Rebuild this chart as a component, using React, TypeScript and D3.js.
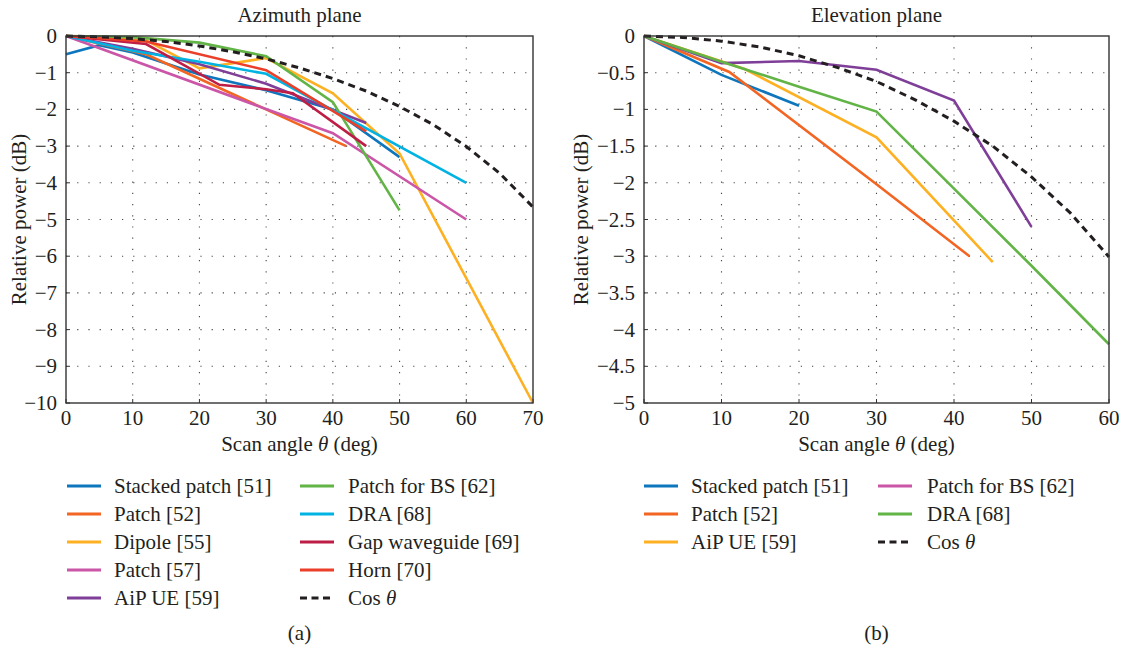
import React from 'react'
import {scaleLinear, line} from 'd3'

// angle (deg), relative power (dB) pairs
type Pt = [number, number]

const cosAngles = [0, 5, 10, 15, 20, 25, 30, 35, 40, 45, 50, 55, 60, 65, 70]
const cosDb = [0, -0.02, -0.07, -0.15, -0.27, -0.43, -0.62, -0.87, -1.16, -1.5, -1.92, -2.41, -3.01, -3.74, -4.66]

// (a) azimuth plane
const azStacked51: Pt[] = [[0, -0.5], [5, -0.25], [10, -0.45], [20, -1.05], [30, -1.48], [40, -2.0], [50, -3.3]]
const azPatch52: Pt[] = [[0, 0], [12, -0.5], [42, -3.0]]
const azDipole55: Pt[] = [[0, 0], [12, -0.12], [20, -0.88], [30, -0.6], [40, -1.56], [50, -3.2], [70, -10]]
const azPatch57: Pt[] = [[0, 0], [40, -2.65], [60, -5.0]]
const azAipUe59: Pt[] = [[0, 0], [10, -0.35], [20, -0.77], [30, -1.3], [45, -2.37]]
const azPatchBs62: Pt[] = [[0, 0], [10, -0.03], [20, -0.18], [30, -0.55], [40, -1.8], [50, -4.75]]
const azDra68: Pt[] = [[0, 0], [5, -0.2], [10, -0.4], [20, -0.7], [30, -1.03], [60, -4.0]]
const azGap69: Pt[] = [[0, 0], [12, -0.22], [23, -1.33], [30, -1.45], [34, -1.56], [45, -3.0]]
const azHorn70: Pt[] = [[0, 0], [12, -0.15], [30, -0.93], [45, -2.6]]

// (b) elevation plane
const elStacked51: Pt[] = [[0, 0], [10, -0.53], [20, -0.95]]
const elPatch52: Pt[] = [[0, 0], [11, -0.49], [30, -2.02], [42, -3.0]]
const elAipUe59: Pt[] = [[0, 0], [13, -0.45], [30, -1.38], [45, -3.08]]
const elPatchBs62: Pt[] = [[0, 0], [10, -0.37], [20, -0.34], [30, -0.46], [40, -0.88], [50, -2.6]]
const elDra68: Pt[] = [[0, 0], [10, -0.35], [20, -0.69], [30, -1.03], [40, -2.08], [50, -3.13], [60, -4.2]]

const azXTicks = [0, 10, 20, 30, 40, 50, 60, 70]
const azYTicks = [0, -1, -2, -3, -4, -5, -6, -7, -8, -9, -10]
const elXTicks = [0, 10, 20, 30, 40, 50, 60]
const elYTicks = [0, -0.5, -1, -1.5, -2, -2.5, -3, -3.5, -4, -4.5, -5]

const C = {
    blue: '#0E76BC',
    orange: '#F26522',
    yellow: '#FDB022',
    pink: '#CB56A8',
    purple: '#7F3F98',
    green: '#62B447',
    cyan: '#00B3E3',
    crimson: '#BE1E45',
    red: '#EC3F2A',
    black: '#231F20'
}

const FONT = '"Liberation Serif", "DejaVu Serif", serif'
const FS = 21

const cosPts: Pt[] = cosAngles.map((a, i) => [a, cosDb[i]])

const fmt = (v: number) => (v === 0 ? '0' : String(v).replace('-', '\u2212'))

type Series = {name: string, color: string, data: Pt[], dashed?: boolean, lineColor?: string}

function Panel(props: {
    x0: number, x1: number, y0: number, y1: number,
    xMax: number, yMin: number, xTicks: number[], yTicks: number[],
    title: string, series: Series[], legendCols: Series[][],
    legX: number[], lineX: number[], tag: string, ylabelX: number
}) {
    const {x0, x1, y0, y1} = props
    const xScale = scaleLinear().domain([0, props.xMax]).range([x0, x1])
    const yScale = scaleLinear().domain([props.yMin, 0]).range([y1, y0])
    const gen = line<Pt>().x(d => xScale(d[0])).y(d => yScale(d[1]))
    const cx = (x0 + x1) / 2

    return <g fontFamily={FONT} fill="#231F20">
        {/* dotted grid */}
        {props.xTicks.slice(1, -1).map(t =>
            <line key={'gx' + t} x1={xScale(t)} x2={xScale(t)} y1={y0} y2={y1}
                  stroke="#444" strokeWidth={1.1} strokeDasharray="1.2 10"/>)}
        {props.yTicks.slice(1, -1).map(t =>
            <line key={'gy' + t} x1={x0} x2={x1} y1={yScale(t)} y2={yScale(t)}
                  stroke="#444" strokeWidth={1.1} strokeDasharray="1.2 10"/>)}
        {/* ticks */}
        {props.xTicks.map(t =>
            <line key={'tx' + t} x1={xScale(t)} x2={xScale(t)} y1={y1} y2={y1 - 4} stroke="#333"/>)}
        {props.yTicks.map(t =>
            <line key={'ty' + t} x1={x0} x2={x0 + 4} y1={yScale(t)} y2={yScale(t)} stroke="#333"/>)}
        {/* data */}
        {props.series.map(s =>
            <path key={s.name} d={gen(s.data) || ''} fill="none"
                  stroke={s.lineColor || s.color} strokeWidth={s.dashed ? 3 : 2.6}
                  strokeDasharray={s.dashed ? '7 5' : undefined} strokeLinejoin="miter"/>)}
        {/* box */}
        <rect x={x0} y={y0} width={x1 - x0} height={y1 - y0} fill="none" stroke="#333" strokeWidth={1.4}/>
        {/* tick labels */}
        {props.xTicks.map(t =>
            <text key={'lx' + t} x={xScale(t)} y={y1 + 22} fontSize={FS} textAnchor="middle">{fmt(t)}</text>)}
        {props.yTicks.map(t =>
            <text key={'ly' + t} x={x0 - 9} y={yScale(t) + 7} fontSize={FS} textAnchor="end">{fmt(t)}</text>)}
        <text x={cx} y={22} fontSize={FS} textAnchor="middle">{props.title}</text>
        <text x={cx} y={y1 + 48} fontSize={FS} textAnchor="middle">
            Scan angle <tspan fontStyle="italic">θ</tspan> (deg)
        </text>
        <text transform={`translate(${props.ylabelX},${(y0 + y1) / 2}) rotate(-90)`} fontSize={FS}
              textAnchor="middle">Relative power (dB)</text>
        {/* legend */}
        {props.legendCols.map((col, ci) => col.map((s, ri) => {
            const ly = 486 + ri * 28
            return <g key={s.name + ci}>
                <line x1={props.lineX[ci]} x2={props.lineX[ci] + 34} y1={ly} y2={ly} stroke={s.color}
                      strokeWidth={2.8} strokeDasharray={s.dashed ? '7 4.5' : undefined}/>
                <text x={props.legX[ci]} y={ly + 7} fontSize={FS}>
                    {s.dashed ? <>Cos <tspan fontStyle="italic">θ</tspan></> : s.name}
                </text>
            </g>
        }))}
        <text x={cx} y={640} fontSize={FS} textAnchor="middle">{props.tag}</text>
    </g>
}

export default function App() {
    const az: Series[] = [
        {name: 'Stacked patch [51]', color: C.blue, data: azStacked51},
        {name: 'Patch [52]', color: C.orange, data: azPatch52},
        {name: 'Dipole [55]', color: C.yellow, data: azDipole55},
        {name: 'Patch [57]', color: C.pink, data: azPatch57},
        {name: 'AiP UE [59]', color: C.purple, data: azAipUe59},
        {name: 'Patch for BS [62]', color: C.green, data: azPatchBs62},
        {name: 'DRA [68]', color: C.cyan, data: azDra68},
        {name: 'Gap waveguide [69]', color: C.crimson, data: azGap69},
        {name: 'Horn [70]', color: C.red, data: azHorn70},
        {name: 'Cos', color: C.black, data: cosPts, dashed: true}
    ]
    const el: Series[] = [
        {name: 'Stacked patch [51]', color: C.blue, data: elStacked51},
        {name: 'Patch [52]', color: C.orange, data: elPatch52},
        {name: 'AiP UE [59]', color: C.yellow, data: elAipUe59},
        {name: 'Patch for BS [62]', color: C.pink, lineColor: C.purple, data: elPatchBs62},
        {name: 'DRA [68]', color: C.green, data: elDra68},
        {name: 'Cos', color: C.black, data: cosPts.filter(p => p[0] <= 60), dashed: true}
    ]
    return <svg width={1125} height={652} style={{position: 'absolute', left: 0, top: 0, background: '#fff'}}>
        <Panel x0={66} x1={533} y0={36} y1={403} xMax={70} yMin={-10}
               xTicks={azXTicks} yTicks={azYTicks} title="Azimuth plane" series={az}
               legendCols={[az.slice(0, 5), az.slice(5)]} lineX={[67, 300]} legX={[114, 348]}
               tag="(a)" ylabelX={26}/>
        <Panel x0={644} x1={1109} y0={36} y1={403} xMax={60} yMin={-5}
               xTicks={elXTicks} yTicks={elYTicks} title="Elevation plane" series={el}
               legendCols={[el.slice(0, 3), el.slice(3)]} lineX={[644, 878]} legX={[691, 927]}
               tag="(b)" ylabelX={588}/>
    </svg>
}
